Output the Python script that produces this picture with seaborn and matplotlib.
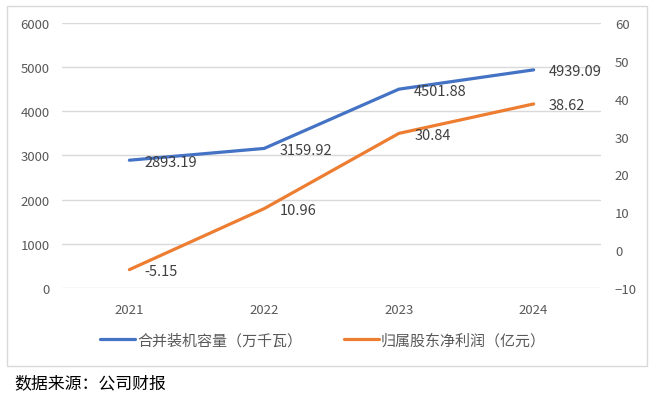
import matplotlib
matplotlib.use("Agg")
import matplotlib.pyplot as plt
import seaborn as sns
import pandas as pd
from matplotlib.patches import Rectangle

years = ["2021", "2022", "2023", "2024"]
capacity = [2893.19, 3159.92, 4501.88, 4939.09]
profit = [-5.15, 10.96, 30.84, 38.62]
capacity_labels = ["2893.19", "3159.92", "4501.88", "4939.09"]
profit_labels = ["-5.15", "10.96", "30.84", "38.62"]
series_names = ["合并装机容量（万千瓦）", "归属股东净利润（亿元）"]
left_ticks = [0, 1000, 2000, 3000, 4000, 5000, 6000]
right_ticks = [-10, 0, 10, 20, 30, 40, 50, 60]
source_text = "数据来源：公司财报"

sns.set_theme(style="white")
plt.rcParams["font.family"] = ["Noto Sans CJK SC", "DejaVu Sans"]

BLUE = "#4472C4"
ORANGE = "#ED7D31"
TICK = "#595959"
LABEL = "#404040"
GRID = "#D9D9D9"

df = pd.DataFrame({"year": years, "capacity": capacity, "profit": profit})
df["x"] = range(len(years))

fig = plt.figure(figsize=(6.5, 4.02), dpi=100)
fig.patch.set_facecolor("white")
ax = fig.add_axes([0.0954, 0.2811, 0.8292, 0.6592])
ax2 = ax.twinx()

sns.lineplot(data=df, x="x", y="capacity", ax=ax, color=BLUE, linewidth=2.3,
             label=series_names[0], legend=False)
sns.lineplot(data=df, x="x", y="profit", ax=ax2, color=ORANGE, linewidth=2.3,
             label=series_names[1], legend=False)

ax.set_xlim(-0.5, len(years) - 0.5)
ax.set_ylim(left_ticks[0], left_ticks[-1])
ax2.set_ylim(right_ticks[0], right_ticks[-1])
ax.set_yticks(left_ticks)
ax2.set_yticks(right_ticks)
ax.set_xticks(range(len(years)))
ax.set_xticklabels(years)
ax.set_xlabel("")
ax.set_ylabel("")
ax2.set_ylabel("")

for a in (ax, ax2):
    for s in a.spines.values():
        s.set_visible(False)
    a.set_facecolor("none")
ax.grid(axis="y", color=GRID, linewidth=1.0)
ax.grid(axis="x", visible=False)
ax2.grid(False)
ax.set_axisbelow(True)

ax.tick_params(axis="y", length=0, pad=9, labelsize=9.5, labelcolor=TICK)
ax.tick_params(axis="x", length=0, pad=11, labelsize=9.5, labelcolor=TICK)
ax2.tick_params(axis="y", length=0, pad=10, labelsize=9.5, labelcolor=TICK)

for i, (v, t) in enumerate(zip(capacity, capacity_labels)):
    ax.annotate(t, (i, v), xytext=(11, -1), textcoords="offset points",
                ha="left", va="center", fontsize=10.5, color=LABEL)
for i, (v, t) in enumerate(zip(profit, profit_labels)):
    ax2.annotate(t, (i, v), xytext=(11, -1), textcoords="offset points",
                 ha="left", va="center", fontsize=10.5, color=LABEL)

h1, l1 = ax.get_legend_handles_labels()
h2, l2 = ax2.get_legend_handles_labels()
leg = fig.legend(h1 + h2, l1 + l2, loc="center", bbox_to_anchor=(0.497, 0.152),
                 ncol=2, frameon=False, fontsize=10.8, handlelength=2.3,
                 handletextpad=0.15, columnspacing=2.8)
for t in leg.get_texts():
    t.set_color(TICK)

# outer border
fig.patches.append(Rectangle((7 / 650, 1 - 367 / 402), 640 / 650, 360 / 402,
                             transform=fig.transFigure, fill=False,
                             edgecolor=GRID, linewidth=1.0))

fig.text(14 / 650, 1 - 383 / 402, source_text, ha="left", va="center",
         fontsize=12.2, color="#000000")

fig.savefig("out.png", dpi=100, facecolor="white")
